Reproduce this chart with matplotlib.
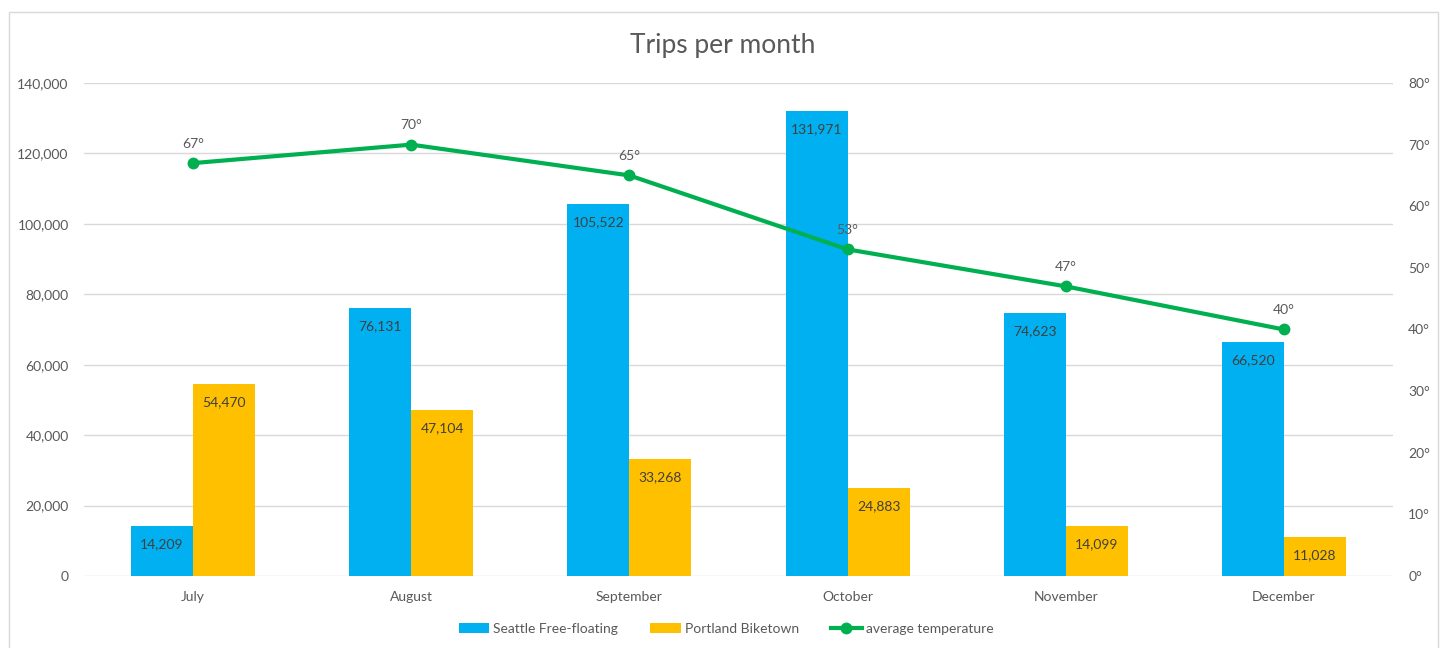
import matplotlib.pyplot as plt
import numpy as np
from matplotlib.patches import Rectangle
from matplotlib.ticker import FuncFormatter

months = ['July', 'August', 'September', 'October', 'November', 'December']
seattle = [14209, 76131, 105522, 131971, 74623, 66520]
portland = [54470, 47104, 33268, 24883, 14099, 11028]
temps = [67, 70, 65, 53, 47, 40]

plt.rcParams['font.family'] = ['Lato', 'DejaVu Sans']
txt = '#595959'
blue = '#00B0F0'
orange = '#FFC000'
green = '#00B050'

fig = plt.figure(figsize=(14.49, 6.48), dpi=100)
ax = fig.add_axes([84 / 1449, 1 - 576 / 648, (1393 - 84) / 1449, (576 - 83) / 648])

# light chart border like the spreadsheet chart
fig.patches.append(Rectangle((9 / 1449, -0.01), 1429 / 1449, 1 - 12 / 648 + 0.01,
                             transform=fig.transFigure, fill=False,
                             edgecolor='#D9D9D9', linewidth=1))

x = np.arange(len(months))
w = 0.284
b1 = ax.bar(x - w / 2, seattle, w, color=blue, label='Seattle Free-floating', zorder=2)
b2 = ax.bar(x + w / 2, portland, w, color=orange, label='Portland Biketown', zorder=2)

for bars, vals in ((b1, seattle), (b2, portland)):
    for r, v in zip(bars, vals):
        ax.annotate(f'{v:,}', (r.get_x() + r.get_width() / 2, v),
                    textcoords='offset points', xytext=(0, -13),
                    ha='center', va='center', fontsize=10, color='#404040', zorder=5)

ax.set_xlim(-0.5, len(months) - 0.5)
ax.set_ylim(0, 140000)
ax.set_yticks(np.arange(0, 140001, 20000))
ax.yaxis.set_major_formatter(FuncFormatter(lambda v, p: f'{int(v):,}'))
ax.set_xticks(x)
ax.set_xticklabels(months)
ax.grid(axis='y', color='#D9D9D9', linewidth=1, zorder=0)
ax.set_axisbelow(True)
for s in ax.spines.values():
    s.set_visible(False)
ax.tick_params(axis='both', length=0, colors=txt, labelsize=10)
ax.tick_params(axis='x', pad=11)
ax.tick_params(axis='y', pad=11)

ax2 = ax.twinx()
ln, = ax2.plot(x, temps, color=green, linewidth=3, marker='o', markersize=7.5,
               label='average temperature', zorder=4)
for xi, t in zip(x, temps):
    ax2.annotate(f'{t}°', (xi, t), textcoords='offset points', xytext=(0, 14),
                 ha='center', va='center', fontsize=10, color=txt)
ax2.set_ylim(0, 80)
ax2.set_yticks(np.arange(0, 81, 10))
ax2.yaxis.set_major_formatter(FuncFormatter(lambda v, p: f'{int(v)}°'))
for s in ax2.spines.values():
    s.set_visible(False)
ax2.tick_params(axis='y', length=0, colors=txt, labelsize=10, pad=11)

fig.text(723 / 1449, 1 - 45 / 648, 'Trips per month', ha='center', va='center',
         fontsize=19, color=txt)

fig.legend(handles=[b1, b2, ln], loc='center', bbox_to_anchor=(726 / 1449, 1 - 629 / 648),
           ncol=3, frameon=False, fontsize=10, labelcolor=txt, handlelength=2.2,
           handleheight=0.75, handletextpad=0.3, columnspacing=2.3)

fig.savefig('out.png', dpi=100)
